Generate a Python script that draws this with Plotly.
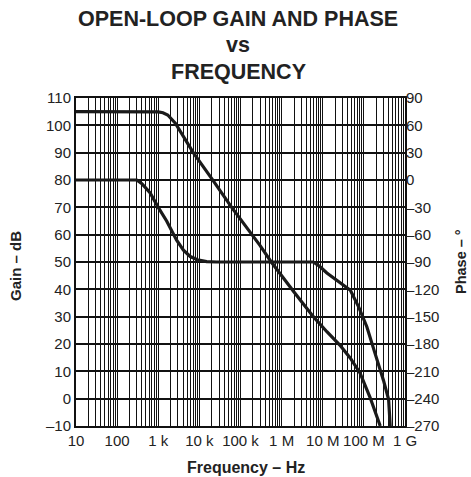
import plotly.graph_objects as go

# ---- data ----
gain_freq = [10, 500, 1000, 1300, 1700, 2600, 4000, 7100, 20000, 61000, 300000,
             560000, 2000000, 5900000, 12600000, 26000000, 47000000, 81000000,
             141000000, 250000000]
gain_db = [105, 105, 104.9, 104.6, 103.8, 100.8, 96, 90, 80.5, 70, 56,
           50, 39, 30, 24.5, 19.6, 14.8, 9.3, 0.5, -10]

phase_freq = [10, 300, 400, 630, 1000, 1600, 2800, 4100, 6000, 9000, 15000, 26000,
              5900000, 8500000, 12600000, 26000000, 47000000, 74000000, 118000000,
              186000000, 300000000, 400000000, 437000000]
phase_deg = [0, 0, -4, -14, -30, -45, -66, -77, -84, -87.5, -89.5, -90,
             -90, -95, -102, -113, -121, -139, -161, -190, -220, -241, -270]

decade_vals = [10, 100, 1e3, 1e4, 1e5, 1e6, 1e7, 1e8, 1e9]
decade_labels = ["10", "100", "1 k", "10 k", "100 k", "1 M", "10 M", "100 M", "1 G"]

gain_ticks = list(range(-10, 111, 10))
phase_ticks = list(range(-270, 91, 30))

title_lines = ["OPEN-LOOP GAIN AND PHASE", "vs", "FREQUENCY"]

# x grid: every 1..9 x decade, labels only at decades
xtickvals, xticktext = [], []
for d, lab in zip(decade_vals, decade_labels):
    xtickvals.append(d)
    xticktext.append(lab)
    if d < 1e9:
        for m in range(2, 10):
            xtickvals.append(d * m)
            xticktext.append("")

def fmt(v):
    return ("\u2013" + str(-v)) if v < 0 else str(v)

FONT = "Liberation Sans, Arial, Helvetica, sans-serif"
TXT = "#222"
L, R, T, B = 76, 66, 98, 51
PW, PH = 471 - L - R, 477 - T - B

def px_x(x):
    return (x - L) / PW

def px_y(y):
    return (477 - B - y) / PH

fig = go.Figure()
fig.add_trace(go.Scatter(x=gain_freq, y=gain_db, mode="lines",
                         line=dict(color="#1a1a1a", width=3.2), yaxis="y",
                         showlegend=False, hoverinfo="skip"))
fig.add_trace(go.Scatter(x=phase_freq, y=phase_deg, mode="lines",
                         line=dict(color="#1a1a1a", width=3.2), yaxis="y2",
                         showlegend=False, hoverinfo="skip"))

annotations = []
for line, ypix in zip(title_lines, [19, 45.5, 71.5]):
    annotations.append(dict(text="<b>" + line + "</b>", xref="paper", yref="paper",
                            x=px_x(238), y=px_y(ypix), xanchor="center", yanchor="middle",
                            showarrow=False, font=dict(family=FONT, size=21.5, color=TXT)))
annotations += [
    dict(text="<b>Gain \u2013 dB</b>", textangle=-90, xref="paper", yref="paper",
         x=px_x(15), y=px_y(266), xanchor="center", yanchor="middle",
         showarrow=False, font=dict(family=FONT, size=15, color=TXT)),
    dict(text="<b>Phase \u2013 \u00b0</b>", textangle=-90, xref="paper", yref="paper",
         x=px_x(461), y=px_y(262), xanchor="center", yanchor="middle",
         showarrow=False, font=dict(family=FONT, size=14.5, color=TXT)),
    dict(text="<b>Frequency \u2013 Hz</b>", xref="paper", yref="paper",
         x=px_x(246), y=px_y(467), xanchor="center", yanchor="middle",
         showarrow=False, font=dict(family=FONT, size=16, color=TXT)),
]

fig.update_layout(
    width=471, height=477,
    margin=dict(l=L, r=R, t=T, b=B, autoexpand=False),
    paper_bgcolor="white", plot_bgcolor="white",
    font=dict(family=FONT, size=15, color=TXT),
    hovermode=False,
    xaxis=dict(type="log", range=[1, 9], tickvals=xtickvals, ticktext=xticktext,
               showgrid=True, gridcolor="#111", gridwidth=1,
               showline=True, linecolor="#111", linewidth=2, mirror=True,
               ticks="", zeroline=False, tickangle=0, automargin=False),
    yaxis=dict(range=[-10, 110], tickvals=gain_ticks,
               ticktext=[fmt(v) for v in gain_ticks],
               showgrid=True, gridcolor="#111", gridwidth=1.6,
               showline=True, linecolor="#111", linewidth=2, mirror=True,
               ticks="", zeroline=False, automargin=False),
    yaxis2=dict(range=[-270, 90], tickvals=phase_ticks,
                ticktext=[fmt(v) for v in phase_ticks],
                overlaying="y", side="right", showgrid=False, zeroline=False,
                ticks="", showline=False, automargin=False),
    annotations=annotations,
)

fig.write_html("out.html", config={"displayModeBar": False},
               post_script="document.body.style.margin='0';document.body.style.padding='0';")
